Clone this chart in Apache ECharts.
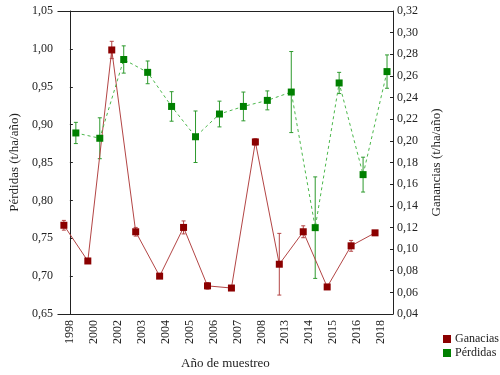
<!DOCTYPE html>
<html>
<head>
<meta charset="utf-8">
<script src="https://cdn.jsdelivr.net/npm/echarts@6/dist/echarts.min.js"></script>
<style>
  html, body { margin: 0; padding: 0; background: #fff; }
  #chart { width: 500px; height: 375px; }
</style>
</head>
<body>
<div id="chart"></div>
<script>
var years = ['1998', '2000', '2002', '2003', '2004', '2005', '2006', '2007', '2008', '2013', '2014', '2015', '2016', '2018'];

// Ganancias (eje derecho)
var ganancias = [0.122, 0.089, 0.284, 0.116, 0.075, 0.120, 0.066, 0.064, 0.199, 0.086, 0.116, 0.065, 0.103, 0.115];
var gananciasErr = [0.0045, 0.002, 0.008, 0.004, 0.001, 0.006, 0.003, 0.0015, 0.003, 0.0285, 0.0055, 0.0015, 0.005, 0.002];

// Pérdidas (eje izquierdo)
var perdidas = [0.889, 0.882, 0.986, 0.969, 0.924, 0.884, 0.914, 0.924, 0.932, 0.943, 0.764, 0.955, 0.834, 0.970];
var perdidasErr = [0.014, 0.027, 0.018, 0.015, 0.0195, 0.034, 0.017, 0.019, 0.0125, 0.0535, 0.067, 0.014, 0.023, 0.022];

var shift = 0.25; // desplazamiento de cada serie respecto al año

var font = 'Liberation Serif';

function comma(v) {
  return v.toFixed(2).replace('.', ',');
}

function pts(vals, off) {
  return vals.map(function (v, i) { return [i + off, v]; });
}

function errData(vals, errs, off) {
  return vals.map(function (v, i) { return [i + off, v - errs[i], v + errs[i]]; });
}

function errBar(color) {
  return function (params, api) {
    var x = api.value(0);
    var lo = api.coord([x, api.value(1)]);
    var hi = api.coord([x, api.value(2)]);
    var st = { stroke: color, lineWidth: 1 };
    return {
      type: 'group',
      children: [
        { type: 'line', shape: { x1: lo[0], y1: lo[1], x2: hi[0], y2: hi[1] }, style: st },
        { type: 'line', shape: { x1: lo[0] - 2, y1: lo[1], x2: lo[0] + 2, y2: lo[1] }, style: st },
        { type: 'line', shape: { x1: hi[0] - 2, y1: hi[1], x2: hi[0] + 2, y2: hi[1] }, style: st }
      ]
    };
  };
}

var chart = echarts.init(document.getElementById('chart'));

var option = {
  animation: false,
  backgroundColor: '#fff',
  textStyle: { fontFamily: font },
  grid: { left: 56, right: 107, top: 11, bottom: 53 },
  legend: {
    orient: 'vertical',
    left: 443,
    top: 333,
    padding: 0,
    itemWidth: 8,
    itemHeight: 8,
    itemGap: 2,
    icon: 'rect',
    textStyle: { fontFamily: font, fontSize: 12, color: '#222', padding: [0, 0, 0, -1] },
    data: ['Ganacias', 'Pérdidas']
  },
  xAxis: [
    {
      type: 'category',
      data: years,
      position: 'bottom',
      boundaryGap: true,
      name: 'Año de muestreo',
      nameLocation: 'middle',
      nameGap: 43,
      nameTextStyle: { fontFamily: font, fontSize: 13, color: '#222' },
      axisLine: { lineStyle: { color: '#222' } },
      axisTick: { alignWithLabel: true, length: 3, lineStyle: { color: '#222' } },
      axisLabel: { rotate: 90, fontFamily: font, fontSize: 12, color: '#222', margin: 6 },
      splitLine: { show: false }
    },
    {
      type: 'value',
      min: -0.5,
      max: 13.5,
      show: false
    },
    {
      type: 'category',
      data: years,
      position: 'top',
      boundaryGap: true,
      axisLine: { lineStyle: { color: '#222' } },
      axisTick: { alignWithLabel: true, inside: true, length: 3, lineStyle: { color: '#222' } },
      axisLabel: { show: false },
      splitLine: { show: false }
    }
  ],
  yAxis: [
    {
      type: 'value',
      min: 0.65,
      max: 1.05,
      interval: 0.05,
      position: 'left',
      name: 'Pérdidas (t/ha/año)',
      nameLocation: 'middle',
      nameRotate: 90,
      nameGap: 34,
      nameTextStyle: { fontFamily: font, fontSize: 13, color: '#222' },
      axisLine: { show: true, lineStyle: { color: '#222' } },
      axisTick: { show: true, inside: true, length: 3, lineStyle: { color: '#222' } },
      axisLabel: { formatter: comma, fontFamily: font, fontSize: 12, color: '#222', margin: 5 },
      splitLine: { show: false }
    },
    {
      type: 'value',
      min: 0.04,
      max: 0.32,
      interval: 0.02,
      position: 'right',
      name: 'Ganancias (t/ha/año)',
      nameLocation: 'middle',
      nameRotate: 90,
      nameGap: 37,
      nameTextStyle: { fontFamily: font, fontSize: 13, color: '#222' },
      axisLine: { show: true, lineStyle: { color: '#222' } },
      axisTick: { show: true, inside: true, length: 3, lineStyle: { color: '#222' } },
      axisLabel: { formatter: comma, fontFamily: font, fontSize: 12, color: '#222', margin: 4 },
      splitLine: { show: false }
    }
  ],
  series: [
    {
      name: 'Ganacias',
      type: 'line',
      xAxisIndex: 1,
      yAxisIndex: 1,
      data: pts(ganancias, -shift),
      symbol: 'rect',
      symbolSize: 7,
      itemStyle: { color: '#8b0000' },
      lineStyle: { color: '#b34545', width: 1 },
      z: 3
    },
    {
      name: 'Pérdidas',
      type: 'line',
      xAxisIndex: 1,
      yAxisIndex: 0,
      data: pts(perdidas, shift),
      symbol: 'rect',
      symbolSize: 7,
      itemStyle: { color: '#008000' },
      lineStyle: { color: '#4cb84c', width: 1, type: [3, 3] },
      z: 3
    },
    {
      name: 'Ganacias',
      type: 'custom',
      xAxisIndex: 1,
      yAxisIndex: 1,
      data: errData(ganancias, gananciasErr, -shift),
      renderItem: errBar('#b34545'),
      encode: { x: 0, y: [1, 2] },
      z: 2
    },
    {
      name: 'Pérdidas',
      type: 'custom',
      xAxisIndex: 1,
      yAxisIndex: 0,
      data: errData(perdidas, perdidasErr, shift),
      renderItem: errBar('#2e9a2e'),
      encode: { x: 0, y: [1, 2] },
      z: 2
    }
  ]
};

chart.setOption(option);
</script>
</body>
</html>
